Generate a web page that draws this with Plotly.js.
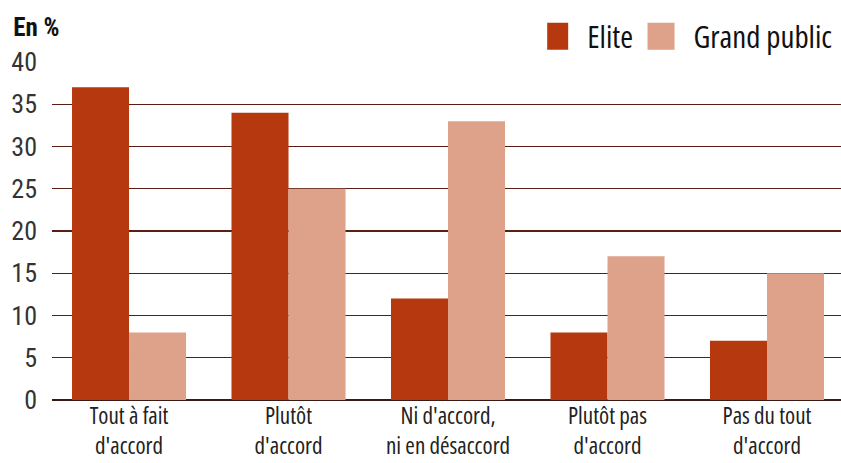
<!DOCTYPE html>
<html>
<head>
<meta charset="utf-8">
<script src="https://cdn.plot.ly/plotly-3.0.1.min.js"></script>
<style>
html,body{margin:0;padding:0;background:#fff;}
#chart{width:841px;height:463px;}
#chart svg text{font-stretch:75%;}
#chart .legendpoints path{transform:translate(-6px,0) scale(2.25,2.25) translate(6px,0);}
</style>
</head>
<body>
<div id="chart"></div>
<script>
const categories = ["Tout à fait<br>d'accord", "Plutôt<br>d'accord", "Ni d'accord,<br>ni en désaccord", "Plutôt pas<br>d'accord", "Pas du tout<br>d'accord"];
const eliteValues = [37, 34, 12, 8, 7];
const grandPublicValues = [8, 25, 33, 17, 15];
const yTickValues = [0, 5, 10, 15, 20, 25, 30, 35, 40];

const FONT_A = "Roboto, sans-serif";
const FONT_B = "'Open Sans', sans-serif";

const traces = [
  {type: 'bar', name: 'Elite', x: [0,1,2,3,4], y: eliteValues, marker: {color: '#b5380f'}},
  {type: 'bar', name: 'Grand public', x: [0,1,2,3,4], y: grandPublicValues, marker: {color: '#dea189'}}
];

const layout = {
  width: 841, height: 463,
  margin: {l: 52, r: 0, t: 62, b: 63, autoexpand: false},
  paper_bgcolor: '#fff', plot_bgcolor: '#fff',
  barmode: 'group', bargap: 0.285, bargroupgap: 0,
  font: {family: FONT_A, color: '#222'},
  showlegend: true,
  legend: {orientation: 'h', x: 1.056, xanchor: 'right', y: 1.075, yanchor: 'middle',
           font: {family: FONT_B, size: 31, color: '#111'}, traceorder: 'normal',
           itemwidth: 30, bgcolor: 'rgba(0,0,0,0)'},
  xaxis: {
    range: [-0.483, 4.464], tickvals: [0,1,2,3,4], ticktext: categories,
    showgrid: false, zeroline: false, showline: false, ticks: '',
    tickfont: {family: FONT_B, size: 23, color: '#222'}, fixedrange: true
  },
  yaxis: {
    range: [0, 40], tickvals: yTickValues, ticktext: yTickValues.map(String),
    showgrid: true, gridcolor: '#5a1e14', gridwidth: 1.3,
    zeroline: true, zerolinecolor: '#3a1a14', zerolinewidth: 1.5,
    showline: false, ticks: '', ticklabelstandoff: 14,
    tickfont: {family: FONT_A, size: 26, color: '#333'}, fixedrange: true
  },
  annotations: [
    {text: '<b>En %</b>', xref: 'paper', yref: 'paper', x: -0.056, y: 1.0, yshift: 35,
     xanchor: 'left', yanchor: 'middle', showarrow: false,
     font: {family: FONT_A, size: 25, color: '#111'}}
  ]
};

Plotly.newPlot('chart', traces, layout, {displayModeBar: false, staticPlot: true});
</script>
</body>
</html>
